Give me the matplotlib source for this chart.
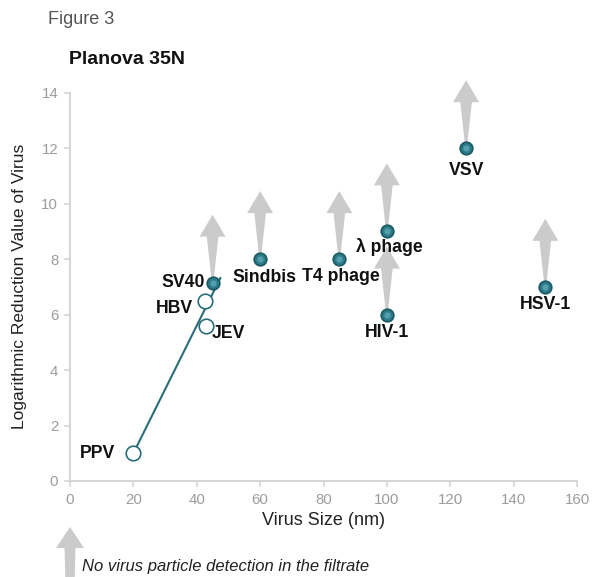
import matplotlib
matplotlib.use("Agg")
import matplotlib.pyplot as plt
import matplotlib.transforms as mtransforms
from matplotlib.patches import Polygon

plt.rcParams['font.family'] = ['Liberation Sans', 'DejaVu Sans']

# ---- data ----
viruses = ["PPV", "HBV", "JEV", "SV40", "Sindbis", "T4 phage", "λ phage", "HIV-1", "VSV", "HSV-1"]
size_nm = [20, 42.5, 43, 45, 60, 85, 100, 100, 125, 150]
lrv = [1.0, 6.5, 5.6, 7.15, 8.0, 8.0, 9.0, 6.0, 12.0, 7.0]
no_detection = [False, False, False, True, True, True, True, True, True, True]
fit_x = [20, 47.6]
fit_y = [1.0, 7.35]
# label offsets in pixels (dx, dy) and alignment
label_dx = [-18, -12, 5, -8, 4, 2, 2, 0, 0, 0]
label_dy = [0, -8, -8, 0, -18, -17, -16, -18, -22, -18]
label_ha = ["right", "right", "left", "right", "center", "center", "center", "center", "center", "center"]
xticks = [0, 20, 40, 60, 80, 100, 120, 140, 160]
yticks = [0, 2, 4, 6, 8, 10, 12, 14]

W, H = 592, 577
fig = plt.figure(figsize=(W / 100, H / 100), dpi=100)
ax = fig.add_axes([70 / W, (H - 481) / H, (577 - 70) / W, (481 - 92.7) / H])
ax.set_xlim(0, 160)
ax.set_ylim(0, 14)

spine_c = "#d2d2d2"
for s in ["top", "right"]:
    ax.spines[s].set_visible(False)
for s in ["left", "bottom"]:
    ax.spines[s].set_color(spine_c)
    ax.spines[s].set_linewidth(1.3)
ax.set_xticks(xticks)
ax.set_yticks(yticks)
ax.tick_params(axis="both", colors=spine_c, length=4.5, width=1.1, labelsize=10.8,
               labelcolor="#9c9c9c", pad=4)

ax.set_xlabel("Virus Size (nm)", fontsize=13, color="#222222", labelpad=4)
ax.set_ylabel("Logarithmic Reduction Value of Virus", fontsize=12.5, color="#222222", labelpad=10)

arrow_c = "#cbcbcb"
teal = "#2a6d7b"

# arrow shape in pixels (relative to point), y up
def arrow_verts(bottom_hw, top_hw, shaft_top, head_hw, tip, y0=0):
    v = [(-bottom_hw, y0), (bottom_hw, y0), (top_hw, shaft_top), (head_hw, shaft_top),
         (0, tip), (-head_hw, shaft_top), (-top_hw, shaft_top)]
    return [(a / 100, b / 100) for a, b in v]

verts = arrow_verts(1.2, 5.8, 46, 13, 68, y0=4)
for x, y, nd in zip(size_nm, lrv, no_detection):
    if nd:
        tr = fig.dpi_scale_trans + mtransforms.ScaledTranslation(x, y, ax.transData)
        p = Polygon(verts, closed=True, facecolor=arrow_c, edgecolor="none",
                    transform=tr, zorder=1, clip_on=False)
        ax.add_patch(p)

# fit line
ax.plot(fit_x, fit_y, color=teal, lw=1.5, zorder=2, solid_capstyle="butt")

# markers
for x, y, nd in zip(size_nm, lrv, no_detection):
    if nd:
        ax.plot(x, y, "o", ms=10.3, mfc="#1d5a67", mec="#1d5a67", mew=0, zorder=4)
        ax.plot(x, y, "o", ms=7.8, mfc="#2c7987", mec="none", zorder=4.1)
        ax.plot(x, y, "o", ms=4.5, mfc="#539fac", mec="none", zorder=4.2)
    else:
        ax.plot(x, y, "o", ms=10.5, mfc="white", mec=teal, mew=1.2, zorder=4)

# labels
for name, x, y, dx, dy, ha in zip(viruses, size_nm, lrv, label_dx, label_dy, label_ha):
    tr = ax.transData + mtransforms.ScaledTranslation(dx / 100, dy / 100, fig.dpi_scale_trans)
    ax.text(x, y, name, transform=tr, ha=ha, va="center", fontsize=12.7,
            fontweight="bold", color="#111111", zorder=3)

# titles
fig.text(48 / W, 1 - 20 / H, "Figure 3", fontsize=13, color="#555555", ha="left", va="center")
fig.text(69 / W, 1 - 59 / H, "Planova 35N", fontsize=14, fontweight="bold", color="#111111",
         ha="left", va="center")

# legend arrow under axes
leg_tr = fig.dpi_scale_trans + mtransforms.ScaledTranslation(
    0, 0, mtransforms.blended_transform_factory(ax.transData, fig.transFigure))
leg_verts = arrow_verts(4.5, 5.5, 29, 14, 50, y0=-10)
fig.patches.append(Polygon(leg_verts, closed=True, facecolor=arrow_c, edgecolor="none",
                           transform=leg_tr, figure=fig))
fig.text(82 / W, 11 / H, "No virus particle detection in the filtrate", fontsize=12,
         style="italic", color="#222222", ha="left", va="center")

fig.savefig("out.png", dpi=100)
